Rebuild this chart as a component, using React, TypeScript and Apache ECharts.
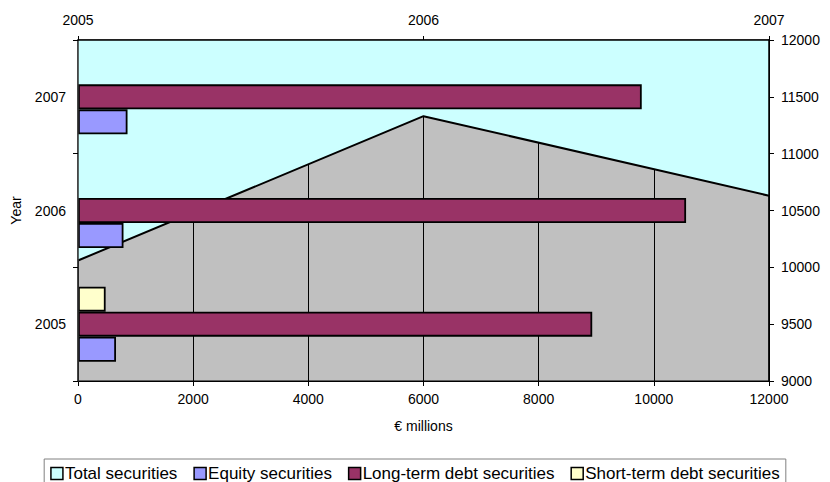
import React, { useEffect, useRef } from "react";
import * as echarts from "echarts";

const years = ["2005", "2006", "2007"];
const totalSecurities = [10060, 11330, 10630];
const equitySecurities = [660, 790, 860];
const longTermDebt = [8930, 10560, 9790];
const shortTermDebt: (number | null)[] = [480, null, null];
const rightTicks = { min: 9000, max: 12000, interval: 500 };
const bottomTicks = { min: 0, max: 12000, interval: 2000 };

const FONT = "'Liberation Sans', Arial, sans-serif";

export default function App() {
  const ref = useRef<HTMLDivElement>(null);
  useEffect(() => {
    document.body.style.margin = "0";
    if (!ref.current) return;
    const chart = echarts.init(ref.current, null, { renderer: "svg" });
    const axisText = { color: "#000", fontSize: 14, fontFamily: FONT };
    const plain = (v: number | string) => String(v);
    const barBase = {
      type: "bar" as const,
      xAxisIndex: 0,
      yAxisIndex: 0,
      barGap: "0%",
      barCategoryGap: "34%",
      z: 3,
    };
    chart.setOption({
      animation: false,
      textStyle: { fontFamily: FONT },
      grid: {
        left: 78,
        right: 61,
        top: 40,
        bottom: 101,
        show: true,
        backgroundColor: "#C0C0C0",
        borderColor: "#000",
        borderWidth: 1,
      },
      legend: {
        data: [
          { name: "Total securities", itemStyle: { color: "#CCFFFF", borderColor: "#000", borderWidth: 1.5 } },
          { name: "Equity securities", itemStyle: { color: "#9999FF", borderColor: "#000", borderWidth: 1.5 } },
          { name: "Long-term debt securities", itemStyle: { color: "#993366", borderColor: "#000", borderWidth: 1.5 } },
          { name: "Short-term debt securities", itemStyle: { color: "#FFFFCC", borderColor: "#000", borderWidth: 1.5 } },
        ],
        icon: "rect",
        itemWidth: 12,
        itemHeight: 12,
        itemGap: 16,
        left: "center",
        top: 459,
        padding: [6, 6, 4, 6],
        borderColor: "#808080",
        borderWidth: 1,
        textStyle: { color: "#000", fontSize: 17, fontFamily: FONT, padding: [0, 0, 0, -3] },
      },
      xAxis: [
        {
          type: "value",
          position: "bottom",
          min: bottomTicks.min,
          max: bottomTicks.max,
          interval: bottomTicks.interval,
          name: "€ millions",
          nameLocation: "middle",
          nameGap: 38,
          nameTextStyle: axisText,
          axisLine: { show: true, lineStyle: { color: "#000", width: 1 } },
          axisTick: { show: true, length: 5, lineStyle: { color: "#000" } },
          axisLabel: { ...axisText, margin: 11, formatter: plain },
          splitLine: { show: true, lineStyle: { color: "#000", width: 1 } },
          z: 0,
        },
        {
          type: "category",
          position: "top",
          data: years,
          boundaryGap: false,
          axisLine: { show: true, lineStyle: { color: "#000", width: 1.5 } },
          axisTick: { show: true, length: 4, lineStyle: { color: "#000" } },
          axisLabel: { ...axisText, margin: 13 },
          splitLine: { show: false },
          z: 5,
        },
      ],
      yAxis: [
        {
          type: "category",
          position: "left",
          data: years,
          name: "Year",
          nameLocation: "middle",
          nameGap: 55,
          nameRotate: 90,
          nameTextStyle: axisText,
          axisLine: { show: true, lineStyle: { color: "#333", width: 1.5 } },
          axisTick: { show: true, length: 5, alignWithLabel: false, lineStyle: { color: "#000" } },
          axisLabel: { ...axisText, margin: 12 },
          splitLine: { show: false },
          z: 5,
        },
        {
          type: "value",
          position: "right",
          min: rightTicks.min,
          max: rightTicks.max,
          interval: rightTicks.interval,
          axisLine: { show: true, lineStyle: { color: "#000", width: 1.5 } },
          axisTick: { show: true, length: 5, lineStyle: { color: "#000" } },
          axisLabel: { ...axisText, margin: 12, formatter: plain },
          splitLine: { show: false },
          z: 5,
        },
      ],
      series: [
        {
          name: "Total securities",
          type: "line",
          xAxisIndex: 1,
          yAxisIndex: 1,
          data: totalSecurities,
          symbol: "none",
          lineStyle: { color: "#000", width: 2 },
          itemStyle: { color: "#CCFFFF" },
          areaStyle: { color: "#CCFFFF", opacity: 1, origin: "end" },
          z: 2,
        },
        {
          ...barBase,
          name: "Short-term debt securities",
          data: shortTermDebt,
          itemStyle: { color: "#FFFFCC", borderColor: "#000", borderWidth: 1.8 },
        },
        {
          ...barBase,
          name: "Long-term debt securities",
          data: longTermDebt,
          itemStyle: { color: "#993366", borderColor: "#000", borderWidth: 1.8 },
        },
        {
          ...barBase,
          name: "Equity securities",
          data: equitySecurities,
          itemStyle: { color: "#9999FF", borderColor: "#000", borderWidth: 1.8 },
        },
      ],
    });
    return () => chart.dispose();
  }, []);
  return <div ref={ref} style={{ width: 830, height: 482 }} />;
}
